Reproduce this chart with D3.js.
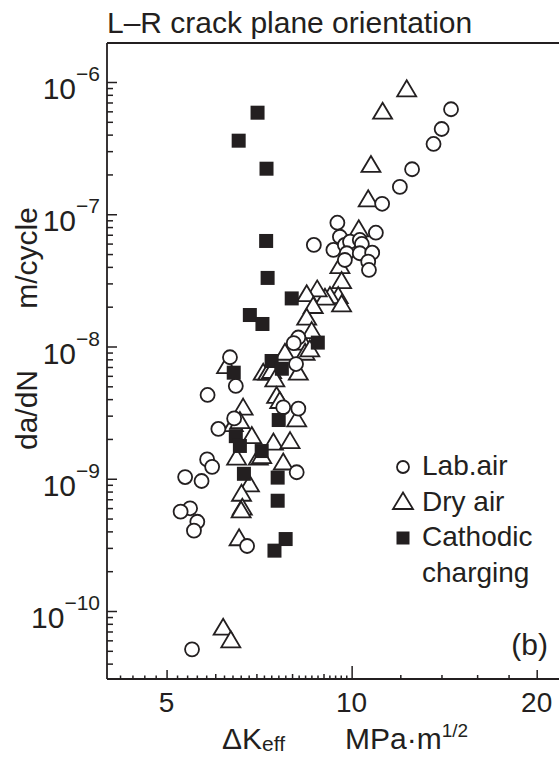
<!DOCTYPE html>
<html lang="en">
<head>
<meta charset="UTF-8">
<title>L-R crack plane orientation</title>
<script src="https://d3js.org/d3.v7.min.js"></script>
<style>
    body { margin: 0; background: #fff; }
    svg { display: block; font-family: "Liberation Sans", Arial, sans-serif; }
    .mark { stroke: #231f20; stroke-width: 1.8; fill: #fff; }
    .tick line { stroke: #231f20; stroke-width: 1.5; }
</style>
</head>
<body>
<svg width="559" height="758"></svg>
<script>
    // Lab. air (circles)
    const labAirK = [14.51, 14.01, 13.59, 12.54, 11.98, 11.21, 9.48, 10.95, 8.68, 9.57, 9.34, 9.75, 9.94, 10.31, 10.39,
        9.82, 10.31, 10.80, 9.75, 10.64, 10.67, 8.19, 8.05, 8.12, 6.34, 6.48, 5.83, 7.74, 8.19, 6.44, 6.07,
        5.82, 5.93, 5.36, 5.70, 8.14, 5.46, 5.27, 5.61, 5.54, 6.76, 5.50];
    const labAirRate = [6.22e-7, 4.41e-7, 3.40e-7, 2.19e-7, 1.61e-7, 1.20e-7, 8.63e-8, 7.25e-8, 5.86e-8, 6.76e-8, 5.37e-8,
        5.86e-8, 6.20e-8, 6.39e-8, 5.96e-8, 5.07e-8, 5.07e-8, 5.12e-8, 4.51e-8, 4.38e-8, 3.79e-8, 1.17e-8, 1.06e-8,
        7.37e-9, 8.29e-9, 5.03e-9, 4.30e-9, 3.47e-9, 3.39e-9, 2.86e-9, 2.38e-9, 1.40e-9, 1.23e-9, 1.03e-9, 9.62e-10,
        1.12e-9, 5.98e-10, 5.64e-10, 4.73e-10, 4.05e-10, 3.10e-10, 5.13e-11];

    // Dry air (triangles)
    const dryAirK = [12.29, 11.23, 10.75, 10.64, 10.27, 9.57, 9.63, 9.51, 9.22, 9.05, 8.79, 8.45, 8.66, 9.63, 8.45, 8.61,
        8.34, 8.40, 7.79, 8.55, 7.18, 7.30, 7.41, 7.50, 8.19, 7.55, 7.64, 6.66, 8.14, 6.42, 6.88, 7.46, 7.94,
        6.50, 7.05, 7.74, 6.82, 6.62, 6.64, 6.61, 6.56, 6.18, 6.36, 6.26, 6.58, 7.14];
    const dryAirRate = [8.96e-7, 6.07e-7, 2.40e-7, 1.32e-7, 7.83e-8, 4.13e-8, 3.18e-8, 2.45e-8, 2.45e-8, 2.38e-8, 2.75e-8,
        2.53e-8, 2.06e-8, 2.12e-8, 1.68e-8, 1.33e-8, 1.09e-8, 9.13e-9, 9.13e-9, 9.69e-9, 6.45e-9, 6.45e-9, 6.64e-9,
        5.75e-9, 6.45e-9, 4.30e-9, 3.94e-9, 3.51e-9, 2.86e-9, 2.63e-9, 2.14e-9, 1.91e-9, 1.96e-9, 1.47e-9, 1.47e-9,
        1.35e-9, 9.24e-10, 7.84e-10, 6.15e-10, 5.86e-10, 3.61e-10, 7.61e-11, 6.11e-11, 7.24e-9, 2.78e-9, 1.51e-9];

    // Cathodic charging (filled squares)
    const cathodicK = [7.03, 6.55, 7.27, 7.26, 7.30, 7.99, 6.83, 7.16, 8.81, 7.41, 7.70, 6.43, 7.61, 6.48, 6.58, 7.14,
        6.68, 7.58, 7.58, 7.81, 7.49];
    const cathodicRate = [5.86e-7, 3.60e-7, 2.21e-7, 6.28e-8, 3.30e-8, 2.31e-8, 1.73e-8, 1.48e-8, 1.07e-8, 7.77e-9,
        6.79e-9, 6.34e-9, 2.78e-9, 2.10e-9, 1.77e-9, 1.62e-9, 1.09e-9, 1.02e-9, 6.82e-10, 3.50e-10, 2.86e-10];

    const xLabelTicks = [5, 10, 20];
    const yLabelExps = [-10, -9, -8, -7, -6];
    const legendLabels = ["Lab.air", "Dry air", "Cathodic", "charging"];

    const ink = "#231f20";
    const svg = d3.select("svg");
    const plotLeft = 107, plotTop = 43, plotBottom = 679, plotRight = 559;

    const x = d3.scaleLog().domain([4, 20]).range([plotLeft, 536.7]);
    const y = d3.scaleLog().domain([1e-10, 1e-6]).range([611, 82]);

    // title
    svg.append("text").attr("x", plotLeft).attr("y", 33)
        .attr("font-size", 30).attr("fill", ink)
        .text("L\u2013R crack plane orientation");

    // x ticks, inward
    const xMinor = d3.range(42, 100, 2).map(d => d / 10).filter(d => d % 1 !== 0);
    const xInt = [6, 7, 8, 9];
    const xSmall = [12, 14, 16, 18];
    function xTicks(vals, len) {
        svg.append("g").attr("transform", `translate(0,${plotBottom})`)
            .call(d3.axisBottom(x).tickValues(vals).tickSize(-len).tickFormat(""))
            .call(g => g.select(".domain").remove());
    }
    xTicks(xMinor, 3.5);
    xTicks(xInt, 5);
    xTicks(xSmall, 4);
    xTicks([5, 20], 9);
    xTicks([10], 13);

    svg.selectAll(".xlab").data(xLabelTicks).enter().append("text")
        .attr("x", d => x(d)).attr("y", 712)
        .attr("text-anchor", "middle").attr("font-size", 28).attr("fill", ink)
        .text(d => d);

    // y ticks, inward
    const yMinor = [];
    for (let e = -11; e <= -6; e++) {
        for (let m = 2; m <= 9; m++) {
            const v = m * Math.pow(10, e);
            if (y(v) > plotTop + 1 && y(v) < plotBottom - 1) yMinor.push(v);
        }
    }
    svg.append("g").attr("transform", `translate(${plotLeft},0)`)
        .call(d3.axisLeft(y).tickValues(yMinor).tickSize(-6).tickFormat(""))
        .call(g => g.select(".domain").remove());
    svg.append("g").attr("transform", `translate(${plotLeft},0)`)
        .call(d3.axisLeft(y).tickValues(yLabelExps.map(e => Math.pow(10, e))).tickSize(-10).tickFormat(""))
        .call(g => g.select(".domain").remove());

    const ylab = svg.selectAll(".ylab").data(yLabelExps).enter().append("text")
        .attr("x", plotLeft - 7).attr("y", d => y(Math.pow(10, d)) + 17)
        .attr("text-anchor", "end").attr("fill", ink);
    ylab.append("tspan").attr("font-size", 30).text("10");
    ylab.append("tspan").attr("font-size", 21).attr("dy", -18).text(d => "\u2212" + Math.abs(d));

    // spines
    svg.append("line").attr("x1", plotLeft).attr("x2", plotRight).attr("y1", plotTop).attr("y2", plotTop)
        .attr("stroke", ink).attr("stroke-width", 1.8);
    svg.append("line").attr("x1", plotLeft).attr("x2", plotRight).attr("y1", plotBottom).attr("y2", plotBottom)
        .attr("stroke", ink).attr("stroke-width", 1.8);
    svg.append("line").attr("x1", plotLeft).attr("x2", plotLeft).attr("y1", plotTop).attr("y2", plotBottom)
        .attr("stroke", ink).attr("stroke-width", 1.8);

    // axis titles
    const xt = svg.append("text").attr("x", 222).attr("y", 749).attr("font-size", 30).attr("fill", ink);
    xt.append("tspan").text("\u0394K");
    xt.append("tspan").attr("font-size", 21).attr("dy", 2).text("eff");
    const xu = svg.append("text").attr("x", 345).attr("y", 749).attr("font-size", 30).attr("fill", ink);
    xu.append("tspan").text("MPa\u00b7m");
    xu.append("tspan").attr("font-size", 19).attr("dy", -12).text("1/2");

    svg.append("text").attr("transform", "translate(37,410) rotate(-90)")
        .attr("text-anchor", "middle").attr("font-size", 30).attr("fill", ink).text("da/dN");
    svg.append("text").attr("transform", "translate(37,258) rotate(-90)")
        .attr("text-anchor", "middle").attr("font-size", 30).attr("fill", ink).text("m/cycle");

    // markers
    const triPath = "M0,-8L9.5,8L-9.5,8Z";
    const dry = d3.zip(dryAirK, dryAirRate);
    const lab = d3.zip(labAirK, labAirRate);
    const cat = d3.zip(cathodicK, cathodicRate);

    svg.append("g").selectAll("path").data(dry).enter().append("path")
        .attr("class", "mark").attr("d", triPath)
        .attr("transform", d => `translate(${x(d[0])},${y(d[1])})`);
    svg.append("g").selectAll("circle").data(lab).enter().append("circle")
        .attr("class", "mark").attr("r", 7)
        .attr("cx", d => x(d[0])).attr("cy", d => y(d[1]));
    svg.append("g").selectAll("rect").data(cat).enter().append("rect")
        .attr("width", 14).attr("height", 14).attr("fill", ink)
        .attr("x", d => x(d[0]) - 7).attr("y", d => y(d[1]) - 7);

    // legend
    const lx = 403;
    svg.append("circle").attr("class", "mark").attr("cx", lx).attr("cy", 467).attr("r", 6);
    svg.append("path").attr("class", "mark").attr("d", "M0,-8.5L10,8L-10,8Z")
        .attr("transform", `translate(${lx},501)`);
    svg.append("rect").attr("x", lx - 6.5).attr("y", 531.5).attr("width", 13).attr("height", 13).attr("fill", ink);
    svg.selectAll(".leg").data(legendLabels).enter().append("text")
        .attr("x", 422).attr("y", (d, i) => 475 + i * 35.5)
        .attr("font-size", 28).attr("fill", ink).text(d => d);

    svg.append("text").attr("x", 548).attr("y", 655).attr("text-anchor", "end")
        .attr("font-size", 30).attr("fill", ink).text("(b)");
</script>
</body>
</html>
